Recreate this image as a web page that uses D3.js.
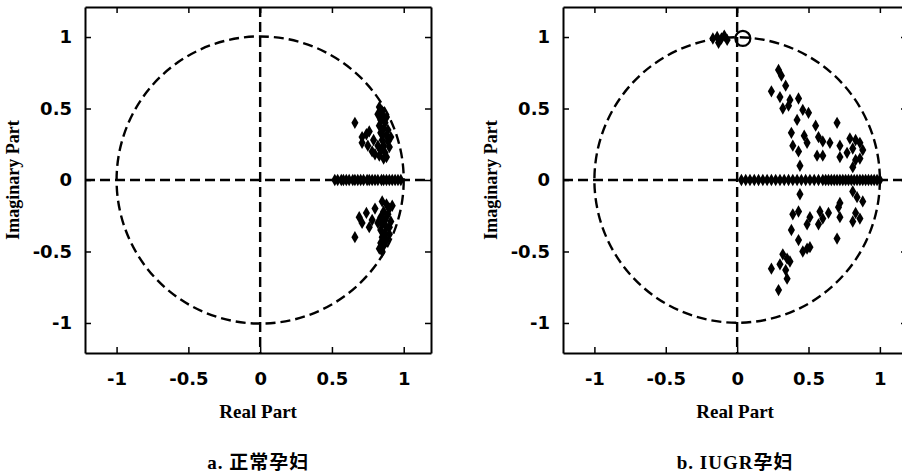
<!DOCTYPE html>
<html>
<head>
<meta charset="utf-8">
<script src="https://cdn.jsdelivr.net/npm/d3@7"></script>
<style>
  body { margin: 0; background: #fff; }
  svg { display: block; }
</style>
</head>
<body>
<div id="chart"></div>
<script>
// tick values and labels (same for both axes)
const tickValues = [-1, -0.5, 0, 0.5, 1];
const tickLabels = ["-1", "-0.5", "0", "0.5", "1"];

// panel a: normal pregnancy — poles on the real axis
const normalRealPoles = [0.52, 0.54, 0.565, 0.58, 0.60, 0.62, 0.645, 0.66, 0.68, 0.70, 0.72, 0.745,
    0.76, 0.78, 0.80, 0.82, 0.845, 0.86, 0.88, 0.90, 0.92, 0.94, 0.96, 0.98];
// panel a: complex poles [real, imag]
const normalPoles = [
    [0.83, 0.51], [0.85, 0.48], [0.82, 0.46], [0.86, 0.44], [0.84, 0.42], [0.87, 0.40],
    [0.83, 0.38], [0.86, 0.36], [0.89, 0.35], [0.84, 0.33], [0.88, 0.31], [0.91, 0.30],
    [0.85, 0.28], [0.89, 0.27], [0.86, 0.24], [0.90, 0.23], [0.84, 0.21], [0.87, 0.19],
    [0.83, 0.17], [0.86, 0.15], [0.66, 0.40], [0.71, 0.30], [0.74, 0.32], [0.76, 0.34],
    [0.71, 0.26], [0.75, 0.24], [0.78, 0.20], [0.80, 0.18], [0.79, 0.28], [0.88, 0.44],
    [0.85, 0.32], [0.82, 0.24], [0.88, 0.16],
    [0.85, -0.15], [0.88, -0.17], [0.90, -0.20], [0.86, -0.22], [0.89, -0.24], [0.84, -0.26],
    [0.87, -0.28], [0.91, -0.29], [0.85, -0.31], [0.88, -0.33], [0.84, -0.35], [0.87, -0.37],
    [0.90, -0.38], [0.85, -0.40], [0.88, -0.42], [0.84, -0.44], [0.86, -0.46], [0.83, -0.48],
    [0.85, -0.50], [0.69, -0.26], [0.74, -0.23], [0.71, -0.30], [0.76, -0.33], [0.78, -0.28],
    [0.80, -0.20], [0.66, -0.40], [0.92, -0.18], [0.82, -0.30], [0.90, -0.33]
];
const normalZeros = [];

// panel b: IUGR pregnancy — poles on the real axis
const iugrRealPoles = [0.03, 0.06, 0.09, 0.12, 0.15, 0.18, 0.21, 0.24, 0.27, 0.30, 0.33, 0.36,
    0.39, 0.42, 0.45, 0.48, 0.51, 0.54, 0.57, 0.60, 0.62, 0.64, 0.66, 0.68, 0.70, 0.72, 0.74,
    0.76, 0.78, 0.80, 0.82, 0.84, 0.86, 0.88, 0.90, 0.92, 0.94, 0.96, 0.98, 1.0];
// panel b: complex poles [real, imag]
const iugrPoles = [
    [-0.17, 0.99], [-0.14, 1.0], [-0.11, 0.99], [-0.13, 0.96], [-0.09, 1.01], [-0.07, 0.98],
    [0.29, 0.77], [0.31, 0.73], [0.34, 0.66], [0.24, 0.62], [0.30, 0.58], [0.37, 0.56],
    [0.43, 0.57], [0.32, 0.50], [0.36, 0.52], [0.46, 0.49], [0.50, 0.47], [0.42, 0.42],
    [0.55, 0.38], [0.70, 0.40], [0.38, 0.33], [0.47, 0.31], [0.57, 0.30], [0.60, 0.27],
    [0.65, 0.26], [0.39, 0.24], [0.49, 0.26], [0.72, 0.24], [0.79, 0.29], [0.83, 0.28],
    [0.86, 0.26], [0.81, 0.22], [0.88, 0.21], [0.43, 0.20], [0.56, 0.17], [0.60, 0.17],
    [0.72, 0.16], [0.77, 0.19], [0.83, 0.14], [0.86, 0.15], [0.44, 0.10], [0.81, 0.09],
    [0.44, -0.10], [0.81, -0.08], [0.84, -0.12], [0.88, -0.15], [0.72, -0.16], [0.71, -0.19],
    [0.43, -0.22], [0.39, -0.24], [0.58, -0.22], [0.64, -0.23], [0.60, -0.27], [0.57, -0.31],
    [0.51, -0.26], [0.49, -0.31], [0.72, -0.26], [0.83, -0.23], [0.86, -0.27], [0.81, -0.29],
    [0.38, -0.35], [0.43, -0.42], [0.49, -0.48], [0.51, -0.47], [0.70, -0.41], [0.46, -0.50],
    [0.32, -0.52], [0.35, -0.55], [0.37, -0.57], [0.30, -0.59], [0.24, -0.62], [0.34, -0.63],
    [0.35, -0.69], [0.29, -0.77]
];
const iugrZeros = [[0.04, 0.99]];

const panels = [
    { left: 85, right: 431, real: normalRealPoles, poles: normalPoles, zeros: normalZeros,
      caption: "a. 正常孕妇" },
    { left: 563, right: 907, real: iugrRealPoles, poles: iugrPoles, zeros: iugrZeros,
      caption: "b. IUGR孕妇" }
];

const W = 902, H = 473;
const plotTop = 7, plotBottom = 353;

const svg = d3.select("#chart").append("svg")
    .attr("width", W)
    .attr("height", H);

const tickFmt = d => tickLabels[tickValues.indexOf(d)];
const diamond = d3.symbol().type(d3.symbolDiamond).size(44);

panels.forEach(p => {
    const x = d3.scaleLinear().domain([-1.22, 1.19]).range([p.left, p.right]);
    const y = d3.scaleLinear().domain([-1.21, 1.21]).range([plotBottom, plotTop]);
    const g = svg.append("g");

    // unit circle
    g.append("circle")
        .attr("cx", x(0)).attr("cy", y(0))
        .attr("r", x(1) - x(0))
        .attr("fill", "none")
        .attr("stroke", "#000")
        .attr("stroke-width", 2.4)
        .attr("stroke-dasharray", "10,5");

    // dashed axes through the origin
    g.append("line")
        .attr("x1", p.left).attr("x2", p.right)
        .attr("y1", y(0)).attr("y2", y(0))
        .attr("stroke", "#000").attr("stroke-width", 2.4)
        .attr("stroke-dasharray", "10,5");
    g.append("line")
        .attr("x1", x(0)).attr("x2", x(0))
        .attr("y1", plotTop).attr("y2", plotBottom)
        .attr("stroke", "#000").attr("stroke-width", 2.4)
        .attr("stroke-dasharray", "10,5");

    // poles on the real axis
    g.selectAll(".rp")
        .data(p.real)
        .join("path")
        .attr("d", diamond)
        .attr("transform", d => `translate(${x(d)},${y(0)})`)
        .attr("fill", "#000");

    // complex poles
    g.selectAll(".cp")
        .data(p.poles)
        .join("path")
        .attr("d", diamond)
        .attr("transform", d => `translate(${x(d[0])},${y(d[1])})`)
        .attr("fill", "#000");

    // zeros
    g.selectAll(".zr")
        .data(p.zeros)
        .join("circle")
        .attr("cx", d => x(d[0]))
        .attr("cy", d => y(d[1]))
        .attr("r", 7.5)
        .attr("fill", "none")
        .attr("stroke", "#000")
        .attr("stroke-width", 2.2);

    // axes, ticks pointing inwards
    const axStyle = sel => {
        sel.select(".domain").attr("stroke-width", 2);
        sel.selectAll(".tick line").attr("stroke-width", 1.5);
        sel.selectAll("text")
            .attr("font-family", "'DejaVu Sans', sans-serif")
            .attr("font-weight", "bold")
            .attr("font-size", 18)
            .attr("fill", "#000");
    };
    g.append("g")
        .attr("transform", `translate(0,${plotBottom})`)
        .call(d3.axisBottom(x).tickValues(tickValues).tickFormat(tickFmt)
            .tickSizeInner(-6).tickSizeOuter(0).tickPadding(19))
        .call(axStyle);
    g.append("g")
        .attr("transform", `translate(0,${plotTop})`)
        .call(d3.axisTop(x).tickValues(tickValues).tickFormat("")
            .tickSizeInner(-6).tickSizeOuter(0))
        .call(axStyle);
    g.append("g")
        .attr("transform", `translate(${p.left},0)`)
        .call(d3.axisLeft(y).tickValues(tickValues).tickFormat(tickFmt)
            .tickSizeInner(-6).tickSizeOuter(0).tickPadding(13))
        .call(axStyle);
    g.append("g")
        .attr("transform", `translate(${p.right},0)`)
        .call(d3.axisRight(y).tickValues(tickValues).tickFormat("")
            .tickSizeInner(-6).tickSizeOuter(0))
        .call(axStyle);

    // axis titles
    g.append("text")
        .attr("x", x(0) - 2)
        .attr("y", 418)
        .attr("text-anchor", "middle")
        .attr("style", "font-family: 'Liberation Serif', serif; font-weight: bold; font-size: 19px")
        .text("Real Part");
    g.append("text")
        .attr("transform", `translate(${p.left - 66},${y(0)}) rotate(-90)`)
        .attr("text-anchor", "middle")
        .attr("style", "font-family: 'Liberation Serif', serif; font-weight: bold; font-size: 18px")
        .text("Imaginary Part");

    // caption
    g.append("text")
        .attr("x", x(0) - 2)
        .attr("y", 469)
        .attr("text-anchor", "middle")
        .attr("style", "font-family: 'Liberation Serif', 'Noto Sans CJK SC', serif; font-weight: bold; font-size: 19px; letter-spacing: 1px")
        .text(p.caption);
});
</script>
</body>
</html>
